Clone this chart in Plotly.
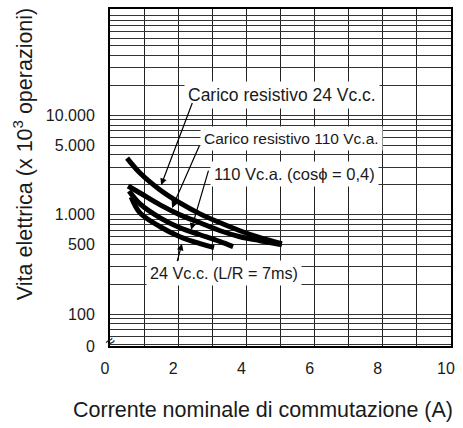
import numpy as np
import plotly.graph_objects as go

# ---- data ----
x_ticks = [0, 2, 4, 6, 8, 10]
y_ticks = [100, 500, 1000, 5000, 10000]
y_tick_text = ["100", "500", "1.000", "5.000", "10.000"]

# Carico resistivo 24 Vc.c.
a_x = [0.50, 0.88, 1.47, 2.05, 2.64, 3.23, 3.81, 4.40, 5.04]
a_y = [3715, 2630, 1778, 1318, 1023, 832, 692, 589, 513]
# Carico resistivo 110 Vc.a.
b_x = [0.53, 0.88, 1.47, 2.05, 2.64, 3.23, 3.81, 4.40, 5.04]
b_y = [1950, 1660, 1259, 1000, 832, 692, 603, 550, 501]
# 110 Vc.a. (cos phi = 0,4)
c_x = [0.56, 0.88, 1.47, 2.05, 2.64, 3.23, 3.61]
c_y = [1738, 1288, 933, 741, 631, 537, 479]
# 24 Vc.c. (L/R = 7ms)
d_x = [0.62, 0.88, 1.47, 2.05, 2.64, 3.05]
d_y = [1514, 1047, 759, 603, 513, 468]

FONT = "Liberation Sans, Arial, Helvetica, sans-serif"
INK = "#1a1a1a"

fig = go.Figure()
for xs, ys in [(a_x, a_y), (b_x, b_y), (c_x, c_y), (d_x, d_y)]:
    fig.add_trace(go.Scatter(x=xs, y=ys, mode="lines",
                             line=dict(color="black", width=5, shape="spline", smoothing=1),
                             showlegend=False, hoverinfo="skip"))

# axis ticks / grid
y_bottom = 48
grid_vals = [m * 10 ** e for e in range(1, 5) for m in range(1, 10)] + [100000]
grid_vals = [v for v in grid_vals if v >= 50]
ytv = [y_bottom] + grid_vals
ytt = ["0"] + [y_tick_text[y_ticks.index(v)] if v in y_ticks else "" for v in grid_vals]

xtv = list(range(0, 11))
xtt = [str(v) if v in x_ticks else "" for v in xtv]

fig.update_xaxes(range=[0, 10], tickvals=xtv, ticktext=xtt, showgrid=True,
                 gridcolor="#222", gridwidth=1, zeroline=False,
                 showline=True, linecolor="black", linewidth=2, mirror=True,
                 ticks="outside", ticklen=7, tickcolor="rgba(0,0,0,0)",
                 ticklabelshift=-5,
                 tickfont=dict(family=FONT, size=16, color=INK))
fig.update_yaxes(type="log", range=[np.log10(y_bottom), 5.07], tickvals=ytv, ticktext=ytt,
                 showgrid=True, gridcolor="#333", gridwidth=1, zeroline=False,
                 showline=True, linecolor="black", linewidth=2, mirror=True,
                 ticks="outside", ticklen=10, tickcolor="rgba(0,0,0,0)",
                 tickfont=dict(family=FONT, size=16, color=INK))

# labels (text boxes)
labels = [
    ("Carico resistivo 24 Vc.c.", 2.17, 16218, 17.5),
    ("Carico resistivo 110 Vc.a.", 2.64, 5888, 15.5),
    ("110 Vc.a. (cos\u03d5 = 0,4)", 2.93, 2570, 16.5),
    ("24 Vc.c. (L/R = 7ms)", 1.06, 263, 16.2),
]
for txt, lx, ly, fs in labels:
    fig.add_annotation(x=lx, y=np.log10(ly), xref="x", yref="y", text=txt,
                       showarrow=False, xanchor="left", yanchor="middle",
                       bgcolor="white", borderpad=3,
                       font=dict(family=FONT, size=fs, color=INK))

# leader arrows: (head x, head y, tail x, tail y)
arrows = [
    (1.50, 1995, 2.43, 13800),
    (1.82, 1175, 2.64, 5129),
    (2.38, 708, 2.90, 2884),
    (2.11, 513, 1.96, 331),
]
for hx, hy, tx, ty in arrows:
    fig.add_annotation(x=hx, y=np.log10(hy), ax=tx, ay=np.log10(ty),
                       xref="x", yref="y", axref="x", ayref="y", text="",
                       showarrow=True, arrowhead=2, arrowsize=1.1, arrowwidth=1.2,
                       arrowcolor="black")

# axis break symbol
fig.add_annotation(x=0, y=0.012, xref="paper", yref="paper", text="\u2248",
                   showarrow=False, textangle=-40, xanchor="center", yanchor="middle",
                   font=dict(family=FONT, size=16, color=INK))

# axis titles
fig.add_annotation(x=(23 - 110) / 341, y=(346 - 153) / 339, xref="paper", yref="paper",
                   text="Vita elettrica (x 10<sup>3</sup> operazioni)", textangle=-90,
                   showarrow=False, xanchor="center", yanchor="middle",
                   font=dict(family=FONT, size=21.5, color=INK))
fig.add_annotation(x=(263 - 110) / 341, y=(346 - 410) / 339, xref="paper", yref="paper",
                   text="Corrente nominale di commutazione (A)",
                   showarrow=False, xanchor="center", yanchor="middle",
                   font=dict(family=FONT, size=21.5, color=INK))

fig.update_layout(width=463, height=428, margin=dict(l=110, r=12, t=7, b=82),
                  plot_bgcolor="white", paper_bgcolor="white",
                  font=dict(family=FONT, color=INK))

fig.write_html("out.html")
